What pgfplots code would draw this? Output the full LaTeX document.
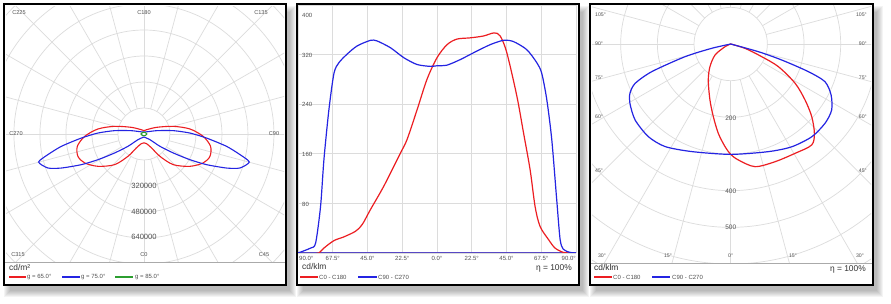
\documentclass[border=0pt]{standalone}
\usepackage{pgfplots}
\pgfplotsset{compat=1.18}
\usepackage{pgfplotstable}
\usepackage{fontspec}
\setmainfont{Liberation Sans}

\definecolor{cRed}{RGB}{236,30,34}
\definecolor{cBlue}{RGB}{36,36,226}
\definecolor{cGreen}{RGB}{44,158,48}
\definecolor{cBase}{RGB}{88,72,196}
\definecolor{gridc}{RGB}{220,220,220}
\definecolor{labc}{RGB}{80,80,80}
\definecolor{sepc}{RGB}{170,170,170}

\newcommand{\fsmall}{\fontsize{6}{7}\selectfont}
\newcommand{\fang}{\fontsize{5.6}{6.5}\selectfont}
\newcommand{\fangr}{\fontsize{5.2}{6}\selectfont}
\newcommand{\frad}{\fontsize{7.6}{8.5}\selectfont}
\newcommand{\fradr}{\fontsize{6.5}{7.5}\selectfont}
\newcommand{\funit}{\fontsize{8.4}{9.5}\selectfont}

% --- luminance (left), C plane in degrees, L in 1000 cd/m2
\pgfplotstableread{
C L
0 55
15.4 62
28.7 98
35.6 169
43.7 261
54.9 346
64 406
71.3 429
79.5 417
87.7 365
96.2 285
104.6 187
117.8 88
150 30
180 20.5
210 30
242.2 88
255.4 187
263.8 285
272.3 365
280.5 417
288.7 429
296 406
305.1 346
316.3 261
324.4 169
331.3 98
344.6 62
360 55
}\lumA
\pgfplotstableread{
C L
0 18.5
46.6 51
52.4 124
57.1 215
60.8 324
63.9 429
67.6 550
70.5 627
75.1 671
77.9 604
81.5 514
86.3 386
91.2 283
96.5 182
104.7 81
180 12.3
255.3 81
263.5 182
268.8 283
273.7 386
278.5 514
282.1 604
284.9 671
289.5 627
292.4 550
296.1 429
299.2 324
302.9 215
307.6 124
313.4 51
360 18.5
}\lumB
\pgfplotstableread{
C L
0 10
45 13
90 18
135 13
180 10
225 13
270 18
315 13
360 10
}\lumC

% --- intensity (middle), gamma in degrees, I in cd/klm
\pgfplotstableread{
g I
-78 0
-76.4 0
-73.2 8
-66.7 20
-60.3 26
-52.8 35
-48.4 46
-43.1 70
-34.4 108
-23.7 161
-19.4 183
-12.9 231
-6.5 280
0 315
6.5 336
12.9 345
21.5 347
30.1 350
37 355
40.9 350
45.2 323
51.7 253
56 194
60.3 134
63.5 75
66.7 43
72.1 22
76.4 8
81.8 1
86 0
}\linA
\pgfplotstableread{
g I
-90 0
-81.8 8
-78.6 16
-75.4 75
-73.2 151
-70.0 231
-66.7 290
-63.5 307
-58.1 321
-51.7 334
-43.1 343
-38.8 342
-30.1 331
-21.5 315
-12.9 304
-4.3 301
0 302
6.5 303
15.1 312
23.7 323
34.4 336
43.1 343
49.5 341
58.1 328
64.6 307
67.8 290
71.1 247
74.3 183
77.5 86
79.7 22
81.8 6
86.1 1
90 0
}\linB

% --- intensity (right), polar, gamma signed (left side negative)
\pgfplotstableread{
g I
-70 0
-64.8 17
-54.9 52
-42.4 84
-31.8 116
-20.3 163
-13.4 204
-7.9 246
-3.2 280
0 301
3.8 317
11.2 341
20.6 343
30.5 346
38.7 353
43.1 334
48.1 297
53 254
58.6 206
64.6 144
67.8 91
73.2 41
80 0
}\polA
\pgfplotstableread{
g I
-78 0
-77.2 53
-74.5 129
-70.7 228
-67.6 282
-63.9 306
-59.5 319
-51.5 333
-41.6 338
-32.6 332
-19.9 312
0 301
19.3 311
30.7 326
41.2 336
50 336
56.8 329
63.1 307
68.2 277
70.4 225
72.6 146
74.5 78
78 0
}\polB

\begin{document}
\begin{tikzpicture}
\useasboundingbox (0,0) rectangle (891pt,304pt);

% shadows and white panels
\begin{scope}[x=1pt,y=-1pt,shift={(0pt,304pt)}]
  \foreach \a/\b/\c/\d in {4/4/286/285, 297/4/579/285, 590/4/873/285}{
    \foreach \k in {0,...,6}{
      \fill[black, opacity=0.045] (\a+6-\k,\b+8-\k) rectangle (\c+4+\k,\d+6+\k);
    }
    \fill[white] (\a,\b) rectangle (\c,\d);
  }
\end{scope}

% left: luminance polar diagram
\begin{axis}[at={(6pt,42pt)}, anchor=south west, scale only axis,
  width=278pt, height=256pt, xmin=-849, xmax=862, ymin=-788, ymax=788,
  hide axis, clip=true]
  \pgfplotsinvokeforeach{1,...,8}{
    \draw[gridc, line width=0.7pt] (axis cs:0,0) circle[radius=#1*26pt];
  }
  \pgfplotsinvokeforeach{0,15,...,345}{
    \draw[gridc, line width=0.7pt] (axis cs:0,0) ++(#1:26pt) -- ++(#1:400pt);
  }
  \addplot[cRed, line width=1.1pt, smooth, tension=0.5]
    table[x expr={\thisrow{L}*sin(\thisrow{C})}, y expr={-\thisrow{L}*cos(\thisrow{C})}] {\lumA};
  \addplot[cBlue, line width=1.1pt, smooth, tension=0.4]
    table[x expr={\thisrow{L}*sin(\thisrow{C})}, y expr={-\thisrow{L}*cos(\thisrow{C})}] {\lumB};
  \addplot[cGreen, line width=1.1pt, smooth]
    table[x expr={\thisrow{L}*sin(\thisrow{C})}, y expr={-\thisrow{L}*cos(\thisrow{C})}] {\lumC};
\end{axis}

% middle: linear diagram
\begin{axis}[at={(298pt,51pt)}, anchor=south west, scale only axis,
  width=278pt, height=248pt, xmin=-90, xmax=90, ymin=0, ymax=400,
  xtick={-90,-67.5,...,90}, ytick={0,80,...,400},
  grid=major, major grid style={gridc, line width=0.7pt},
  axis line style={draw=none}, tick style={draw=none},
  yticklabels={,,,,,},
  xticklabels={,67.5°,45.0°,22.5°,0.0°,22.5°,45.0°,67.5°,},
  xticklabel style={font=\fsmall, text=labc, inner sep=0pt, anchor=center, yshift=-5pt}]
  \draw[cBase, line width=1.2pt] (axis cs:-90,0) -- (axis cs:90,0);
  \addplot[cRed, line width=1.2pt, smooth, tension=0.5] table[x=g, y=I] {\linA};
  \addplot[cBlue, line width=1.2pt, smooth, tension=0.45] table[x=g, y=I] {\linB};
\end{axis}

% right: intensity polar diagram
\begin{axis}[at={(592pt,41pt)}, anchor=south west, scale only axis,
  width=279pt, height=258pt, xmin=-378.2, xmax=382.6, ymin=-597.2, ymax=106.4,
  hide axis, clip=true]
  \pgfplotsinvokeforeach{1,...,8}{
    \draw[gridc, line width=0.7pt] (axis cs:0,0) circle[radius=#1*36.67pt];
  }
  \pgfplotsinvokeforeach{0,15,...,345}{
    \draw[gridc, line width=0.7pt] (axis cs:0,0) ++(#1:36.67pt) -- ++(#1:400pt);
  }
  \addplot[cRed, line width=1.2pt, smooth, tension=0.5]
    table[x expr={\thisrow{I}*sin(\thisrow{g})}, y expr={-\thisrow{I}*cos(\thisrow{g})}] {\polA};
  \addplot[cBlue, line width=1.2pt, smooth, tension=0.45]
    table[x expr={\thisrow{I}*sin(\thisrow{g})}, y expr={-\thisrow{I}*cos(\thisrow{g})}] {\polB};
\end{axis}

% frames, labels and legends
\begin{scope}[x=1pt,y=-1pt,shift={(0pt,304pt)}]
  \draw[sepc, line width=0.6pt] (5,262) -- (285,262);
  \draw[sepc, line width=0.6pt] (591,263) -- (872,263);
  \foreach \a/\b/\c/\d in {4/4/286/285, 297/4/579/285, 590/4/873/285}{
    \draw[black, line width=1.8pt] (\a,\b) rectangle (\c,\d);
  }
  % left panel texts
  \begin{scope}[every node/.style={font=\fang, text=labc, inner sep=0pt}]
    \node at (19,13) {C225};
    \node at (144,13) {C180};
    \node at (261,13) {C135};
    \node at (16,134) {C270};
    \node at (274,134) {C90};
    \node at (18,255) {C315};
    \node at (144,255) {C0};
    \node at (264,255) {C45};
  \end{scope}
  \begin{scope}[every node/.style={font=\frad, text=labc, inner sep=0pt}]
    \node at (144,186) {320000};
    \node at (144,212) {480000};
    \node at (144,237) {640000};
  \end{scope}
  \node[font=\funit, text=black!80, inner sep=0pt, anchor=west] at (9,268) {cd/m²};
  \draw[cRed, line width=1.3pt] (9,277) -- (26,277);
  \node[font=\fsmall, text=labc, inner sep=0pt, anchor=west] at (27,277.5) {g = 65.0°};
  \draw[cBlue, line width=1.3pt] (62,277) -- (80,277);
  \node[font=\fsmall, text=labc, inner sep=0pt, anchor=west] at (81,277.5) {g = 75.0°};
  \draw[cGreen, line width=1.3pt] (115,277) -- (133,277);
  \node[font=\fsmall, text=labc, inner sep=0pt, anchor=west] at (135,277.5) {g = 85.0°};

  % middle panel texts
  \begin{scope}[every node/.style={font=\fsmall, text=labc, inner sep=0pt, anchor=west}]
    \node at (302,15) {400};
    \node at (302,55) {320};
    \node at (302,104) {240};
    \node at (302,154) {160};
    \node at (302,204) {80};
    \node at (299,258) {90.0°};
    \node[anchor=east] at (576,258) {90.0°};
  \end{scope}
  \node[font=\funit, text=black!80, inner sep=0pt, anchor=west] at (302,267) {cd/klm};
  \node[font=\funit, text=black!80, inner sep=0pt, anchor=east] at (572,268) {η = 100\%};
  \draw[cRed, line width=1.3pt] (300,277) -- (318,277);
  \node[font=\fsmall, text=labc, inner sep=0pt, anchor=west] at (319,277.5) {C0 - C180};
  \draw[cBlue, line width=1.3pt] (358,277) -- (377,277);
  \node[font=\fsmall, text=labc, inner sep=0pt, anchor=west] at (378,277.5) {C90 - C270};

  % right panel texts
  \begin{scope}[every node/.style={font=\fangr, text=labc, inner sep=0pt}]
    \node[anchor=west] at (595,15) {105°};
    \node[anchor=west] at (595,44) {90°};
    \node[anchor=west] at (595,78) {75°};
    \node[anchor=west] at (595,117) {60°};
    \node[anchor=west] at (595,171) {45°};
    \node[anchor=east] at (867,15) {105°};
    \node[anchor=east] at (867,44) {90°};
    \node[anchor=east] at (867,78) {75°};
    \node[anchor=east] at (867,117) {60°};
    \node[anchor=east] at (867,171) {45°};
    \node at (602,256) {30°};
    \node at (668,256) {15°};
    \node at (730.7,256) {0°};
    \node at (793,256) {15°};
    \node at (860,256) {30°};
  \end{scope}
  \begin{scope}[every node/.style={font=\fradr, text=labc, inner sep=0pt}]
    \node at (730.7,118) {200};
    \node at (730.7,191) {400};
    \node at (730.7,227) {500};
  \end{scope}
  \node[font=\funit, text=black!85, inner sep=0pt, anchor=west] at (594,268) {cd/klm};
  \node[font=\funit, text=black!80, inner sep=0pt, anchor=east] at (866,269) {η = 100\%};
  \draw[cRed, line width=1.3pt] (594,277) -- (612,277);
  \node[font=\fsmall, text=labc, inner sep=0pt, anchor=west] at (613,277.5) {C0 - C180};
  \draw[cBlue, line width=1.3pt] (652,277) -- (670,277);
  \node[font=\fsmall, text=labc, inner sep=0pt, anchor=west] at (672,277.5) {C90 - C270};
\end{scope}
\end{tikzpicture}
\end{document}
